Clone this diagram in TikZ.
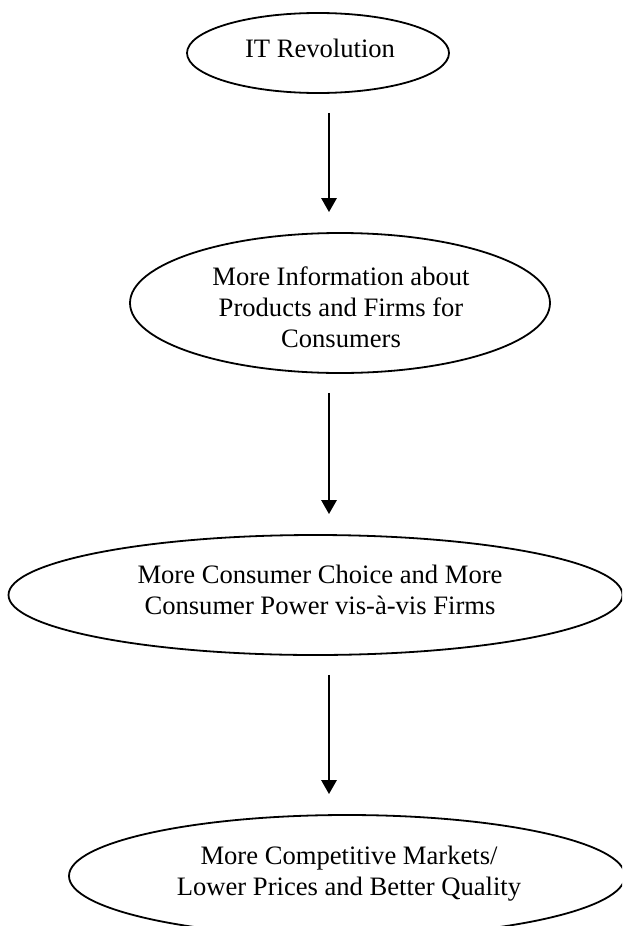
\documentclass[tikz,border=0pt]{standalone}
\usepackage{fontspec}
\setmainfont{Liberation Serif}
\usetikzlibrary{shapes.geometric,arrows.meta}
\begin{document}
\begin{tikzpicture}[x=1pt,y=-1pt,
  oval/.style={draw, ellipse, line width=1.8pt, inner sep=0pt},
  lbl/.style={align=center, font=\fontsize{26.6}{31}\selectfont, anchor=base, inner sep=0pt},
  arr/.style={line width=2.8pt, -{Triangle[width=15pt,length=14pt]}, shorten <=19pt, shorten >=20pt}]
\useasboundingbox (0,0) rectangle (622,926);
\clip (0,0) rectangle (622,926);
\fill[white] (0,0) rectangle (622,926);
\coordinate (ax) at (329,0);
\node[oval, minimum width=262pt, minimum height=80pt] (e1) at (318,53) {};
\node[oval, minimum width=420pt, minimum height=140pt] (e2) at (340,303) {};
\node[oval, minimum width=614pt, minimum height=120pt] (e3) at (315.5,595) {};
\node[oval, minimum width=556pt, minimum height=122pt] (e4) at (347,876) {};
\node[lbl] (t1) at (320,57) {IT Revolution};
\node[lbl] (t2) at (341,347) {More Information about\\Products and Firms for\\Consumers};
\node[lbl] (t3) at (320,614) {More Consumer Choice and More\\Consumer Power vis-à-vis Firms};
\node[lbl] (t4) at (349,895) {More Competitive Markets/\\Lower Prices and Better Quality};
\draw[arr] (e1.south -| ax) -- (e2.north -| ax);
\draw[arr] (e2.south -| ax) -- (e3.north -| ax);
\draw[arr] (e3.south -| ax) -- (e4.north -| ax);
\end{tikzpicture}
\end{document}
